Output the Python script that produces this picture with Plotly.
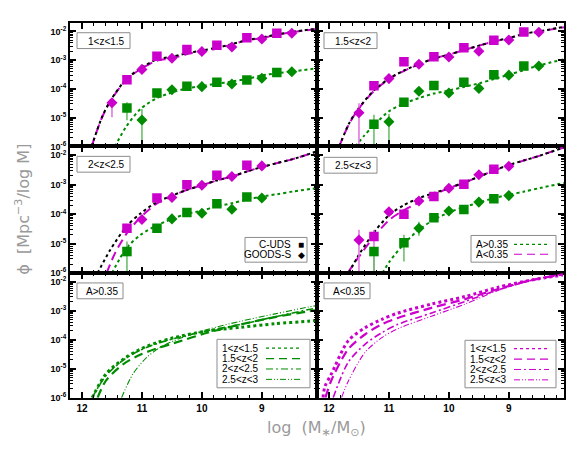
import plotly.graph_objects as go

# ---------------- data (log10 phi values) ----------------
SQ_MASS = [11.25, 10.75, 10.25, 9.75, 9.25, 8.75]          # C-UDS bins
DM_MASS = [11.5, 11.0, 10.5, 10.0, 9.5, 9.0, 8.5]          # GOODS-S bins

# panel 1 : 1<z<1.5
P1_CUDS_LOW = [-3.68, -2.86, -2.63, -2.48, -2.22, -2.06]
P1_GOODS_LOW = [-4.48, -3.32, -2.93, -2.70, -2.54, -2.26, -2.06]
P1_CUDS_HIGH = [-4.66, -4.14, -3.91, -3.77, -3.69, -3.43]
P1_GOODS_HIGH = [None, -5.08, -4.03, -3.92, -3.83, -3.63, -3.40]
# panel 2 : 1.5<z<2
P2_CUDS_LOW = [-3.89, -3.05, -2.88, -2.57, -2.31, -2.02]
P2_GOODS_LOW = [-4.83, -3.64, -3.14, -2.89, -2.69, -2.30, -2.03]
P2_CUDS_HIGH = [-5.23, -4.46, -3.88, -3.77, -3.51, -3.20]
P2_GOODS_HIGH = [None, -5.14, -4.08, -4.14, -3.98, -3.52, -3.20]
# panel 3 : 2<z<2.5
P3_CUDS_LOW = [-4.48, -3.45, -3.00, -2.68, -2.34, None]
P3_GOODS_LOW = [None, -4.18, -3.43, -3.02, -2.72, -2.36, None]
P3_CUDS_HIGH = [-5.27, -4.48, -3.94, -3.65, -3.42, None]
P3_GOODS_HIGH = [None, None, -4.16, -3.97, -3.83, -3.45, None]
# panel 4 : 2.5<z<3
P4_CUDS_LOW = [-4.76, -4.00, -3.40, -2.98, -2.47, None]
P4_GOODS_LOW = [-4.88, -3.92, -3.55, -3.12, -2.66, -2.375, None]
P4_CUDS_HIGH = [-5.27, -4.97, -4.12, -3.84, -3.48, None]
P4_GOODS_HIGH = [None, None, -4.48, -3.89, -3.59, -3.37, None]

# error bars (dex above / below), 0 = none
P1_GOODS_LOW_UP = [0.10, 0, 0, 0, 0, 0, 0]
P1_GOODS_LOW_DN = [0.50, 0, 0, 0, 0, 0, 0]
P1_CUDS_HIGH_UP = [0.20, 0, 0, 0, 0, 0]
P1_CUDS_HIGH_DN = [0.43, 0, 0, 0, 0, 0]
P1_GOODS_HIGH_UP = [0, 0.38, 0, 0, 0, 0, 0]
P1_GOODS_HIGH_DN = [0, 3.0, 0, 0, 0, 0, 0]
P2_GOODS_LOW_UP = [0.33, 0, 0, 0, 0, 0, 0]
P2_GOODS_LOW_DN = [3.0, 0, 0, 0, 0, 0, 0]
P2_CUDS_HIGH_UP = [0.33, 0.08, 0, 0, 0, 0]
P2_CUDS_HIGH_DN = [3.0, 0.10, 0, 0, 0, 0]
P2_GOODS_HIGH_UP = [0, 0.27, 0, 0, 0, 0, 0]
P2_GOODS_HIGH_DN = [0, 3.0, 0, 0, 0, 0, 0]
P3_CUDS_LOW_UP = [0.08, 0, 0, 0, 0, 0]
P3_CUDS_LOW_DN = [0.08, 0, 0, 0, 0, 0]
P3_GOODS_LOW_UP = [0, 0.15, 0, 0, 0, 0, 0]
P3_GOODS_LOW_DN = [0, 0.15, 0, 0, 0, 0, 0]
P3_CUDS_HIGH_UP = [0.34, 0.10, 0, 0, 0, 0]
P3_CUDS_HIGH_DN = [3.0, 0.15, 0, 0, 0, 0]
P4_CUDS_LOW_UP = [0.22, 0, 0, 0, 0, 0]
P4_CUDS_LOW_DN = [3.0, 0, 0, 0, 0, 0]
P4_GOODS_LOW_UP = [0.35, 0, 0, 0, 0, 0, 0]
P4_GOODS_LOW_DN = [3.0, 0, 0, 0, 0, 0, 0]
P4_CUDS_HIGH_UP = [0, 0.27, 0, 0, 0, 0]
P4_CUDS_HIGH_DN = [3.0, 0.64, 0, 0, 0, 0]
P4_GOODS_HIGH_UP = [0, 0, 0.22, 0, 0, 0, 0]
P4_GOODS_HIGH_DN = [0, 0, 0.25, 0, 0, 0, 0]

# fitted curves (mass, log phi)
P1_LOW_FIT_M = [11.84, 11.67, 11.53, 11.26, 11.02, 10.76, 10.51, 10.27, 10.0, 9.76, 9.5, 9.25, 9.0, 8.74, 8.48, 8.07]
P1_LOW_FIT_V = [-6.0, -5.01, -4.44, -3.67, -3.31, -3.02, -2.94, -2.80, -2.68, -2.60, -2.45, -2.31, -2.23, -2.11, -2.02, -1.91]
P1_TOT_FIT_V = [-6.0, -5.00, -4.42, -3.65, -3.28, -2.98, -2.88, -2.77, -2.66, -2.57, -2.44, -2.30, -2.21, -2.10, -2.01, -1.90]
P1_HIGH_FIT_M = [11.45, 11.26, 11.02, 10.76, 10.51, 10.27, 10.0, 9.76, 9.5, 9.25, 9.0, 8.74, 8.48, 8.07]
P1_HIGH_FIT_V = [-6.0, -5.30, -4.69, -4.33, -4.13, -3.99, -3.90, -3.82, -3.74, -3.65, -3.53, -3.45, -3.39, -3.28]

P2_LOW_FIT_M = [11.83, 11.67, 11.52, 11.24, 10.99, 10.74, 10.49, 10.25, 9.99, 9.75, 9.49, 9.24, 8.99, 8.74, 8.48, 8.08]
P2_LOW_FIT_V = [-6.0, -5.24, -4.73, -4.05, -3.65, -3.36, -3.14, -2.94, -2.80, -2.65, -2.49, -2.34, -2.23, -2.09, -2.00, -1.85]
P2_TOT_FIT_V = [-6.0, -5.22, -4.71, -4.03, -3.63, -3.35, -3.13, -2.94, -2.80, -2.65, -2.49, -2.34, -2.22, -2.08, -1.99, -1.84]
P2_HIGH_FIT_M = [11.56, 11.42, 11.24, 10.99, 10.74, 10.49, 10.25, 9.99, 9.75, 9.49, 9.24, 8.99, 8.74, 8.48, 8.08]
P2_HIGH_FIT_V = [-6.0, -5.64, -5.24, -4.76, -4.50, -4.31, -4.16, -4.05, -3.93, -3.80, -3.65, -3.50, -3.34, -3.17, -2.97]

P3_TOT_FIT_M = [11.74, 11.53, 11.26, 11.02, 10.76, 10.51, 10.27, 10.0, 9.76, 9.5, 9.25, 9.0, 8.74, 8.48, 8.07]
P3_TOT_FIT_V = [-6.0, -5.22, -4.42, -3.97, -3.60, -3.38, -3.19, -3.02, -2.86, -2.72, -2.55, -2.40, -2.26, -2.13, -1.86]
P3_LOW_FIT_M = [11.59, 11.45, 11.26, 11.02, 10.76, 10.51, 10.27, 10.0, 9.76, 9.5, 9.25, 9.0, 8.74, 8.48, 8.07]
P3_LOW_FIT_V = [-6.0, -5.33, -4.67, -4.10, -3.65, -3.40, -3.19, -3.02, -2.86, -2.72, -2.55, -2.40, -2.26, -2.13, -1.86]
P3_HIGH_FIT_M = [11.5, 11.26, 11.02, 10.76, 10.51, 10.27, 10.0, 9.76, 9.5, 9.25, 9.0, 8.74, 8.48, 8.07]
P3_HIGH_FIT_V = [-6.0, -5.16, -4.70, -4.39, -4.17, -4.00, -3.88, -3.74, -3.63, -3.51, -3.40, -3.32, -3.23, -3.11]

P4_TOT_FIT_M = [11.67, 11.52, 11.24, 10.99, 10.74, 10.49, 10.25, 9.99, 9.75, 9.49, 9.24, 8.99, 8.74, 8.48, 8.08]
P4_TOT_FIT_V = [-6.0, -5.44, -4.59, -4.02, -3.68, -3.45, -3.28, -3.11, -2.92, -2.72, -2.51, -2.32, -2.17, -2.01, -1.73]
P4_LOW_FIT_M = [11.69, 11.52, 11.24, 10.99, 10.74, 10.49, 10.25, 9.99, 9.75, 9.49, 9.24, 8.99, 8.74, 8.48, 8.08]
P4_LOW_FIT_V = [-6.0, -5.50, -4.74, -4.19, -3.85, -3.60, -3.34, -3.11, -2.94, -2.72, -2.51, -2.34, -2.17, -2.01, -1.73]
P4_HIGH_FIT_M = [11.11, 10.99, 10.74, 10.49, 10.25, 9.99, 9.75, 9.49, 9.24, 8.99, 8.74, 8.48, 8.08]
P4_HIGH_FIT_V = [-6.0, -5.61, -4.99, -4.51, -4.19, -3.93, -3.76, -3.60, -3.45, -3.34, -3.23, -3.11, -2.94]

# bottom-left: A>0.35 fits per redshift bin
BL_Z1_M = [11.83, 11.60, 11.31, 11.03, 10.75, 10.47, 9.91, 9.35, 8.78, 8.22, 8.08]
BL_Z1_V = [-6.0, -5.18, -4.67, -4.33, -4.10, -3.93, -3.70, -3.57, -3.45, -3.36, -3.33]
BL_Z2_M = [11.74, 11.60, 11.31, 11.03, 10.75, 10.47, 9.91, 9.35, 8.78, 8.22, 8.08]
BL_Z2_V = [-6.0, -5.41, -4.84, -4.52, -4.30, -4.12, -3.76, -3.47, -3.22, -3.02, -2.98]
BL_Z3_M = [11.83, 11.60, 11.31, 11.03, 10.75, 10.47, 9.91, 9.35, 8.78, 8.22, 8.08]
BL_Z3_V = [-6.0, -5.24, -4.70, -4.36, -4.14, -3.96, -3.69, -3.47, -3.21, -2.96, -2.91]
BL_Z4_M = [11.34, 11.15, 10.92, 10.70, 10.47, 9.91, 9.35, 8.78, 8.22, 8.08]
BL_Z4_V = [-6.0, -5.18, -4.61, -4.27, -4.04, -3.65, -3.36, -3.11, -2.87, -2.82]
# bottom-right: A<0.35 fits per redshift bin
BR_Z1_M = [12.10, 12.07, 11.96, 11.68, 11.40, 11.12, 10.85, 10.29, 9.73, 9.18, 8.62, 8.10]
BR_Z1_V = [-6.0, -5.63, -5.18, -4.04, -3.59, -3.30, -3.08, -2.77, -2.51, -2.19, -1.94, -1.77]
BR_Z2_M = [12.06, 11.96, 11.68, 11.40, 11.12, 10.85, 10.29, 9.73, 9.18, 8.62, 8.10]
BR_Z2_V = [-6.0, -5.40, -4.33, -3.82, -3.47, -3.25, -2.90, -2.60, -2.25, -1.94, -1.75]
BR_Z3_M = [11.93, 11.68, 11.40, 11.12, 10.85, 10.29, 9.73, 9.18, 8.62, 8.10]
BR_Z3_V = [-6.0, -4.78, -4.16, -3.76, -3.47, -3.08, -2.68, -2.28, -1.95, -1.74]
BR_Z4_M = [11.79, 11.68, 11.40, 11.12, 10.85, 10.29, 9.73, 9.18, 8.62, 8.10]
BR_Z4_V = [-6.0, -5.44, -4.44, -3.93, -3.62, -3.19, -2.77, -2.30, -1.94, -1.74]

Z_LABELS = ["1&lt;z&lt;1.5", "1.5&lt;z&lt;2", "2&lt;z&lt;2.5", "2.5&lt;z&lt;3"]
Y_TICK_EXP = [-6, -5, -4, -3, -2]
X_TICKS = [12, 11, 10, 9]

# ---------------- styling ----------------
W, H = 586, 454
MAG = "#CC00CC"
MAG_ERR = "#E377E3"
GRN = "#008C00"
GRN_ERR = "#6CBF6C"
FONT = "Liberation Sans"
COLS = [(62, 309), (309, 556)]
ROWS = [(15, 140), (140, 268), (268, 394)]


def px(X):
    return X / W


def py(Y):
    return 1 - Y / H


def phi(v):
    return [None if a is None else 10 ** a for a in v]


fig = go.Figure()


def ax(k):
    return ("x" if k == 0 else f"x{k+1}", "y" if k == 0 else f"y{k+1}")


def curve(k, m, v, color, dash, width):
    xa, ya = ax(k)
    fig.add_trace(go.Scatter(x=m, y=phi(v), mode="lines", xaxis=xa, yaxis=ya,
                             line=dict(color=color, dash=dash, width=width, shape="spline", smoothing=0.8),
                             showlegend=False, hoverinfo="skip"))


def points(k, m, v, color, ecolor, symbol, size, up=None, dn=None):
    xa, ya = ax(k)
    err = None
    if up is not None:
        hi, lo = [], []
        for val, u, d in zip(v, up, dn):
            if val is None:
                hi.append(0); lo.append(0)
            else:
                hi.append(10 ** (val + u) - 10 ** val)
                lo.append(10 ** val - 10 ** (val - d))
        err = dict(type="data", symmetric=False, array=hi, arrayminus=lo,
                   color=ecolor, thickness=1.6, width=0)
    fig.add_trace(go.Scatter(x=m, y=phi(v), mode="markers", xaxis=xa, yaxis=ya,
                             marker=dict(symbol=symbol, size=size, color=color, line=dict(width=0)),
                             error_y=err, showlegend=False, hoverinfo="skip"))


Z = [0] * 7
panel_data = [
    (P1_LOW_FIT_M, P1_LOW_FIT_V, P1_LOW_FIT_M, P1_TOT_FIT_V, P1_HIGH_FIT_M, P1_HIGH_FIT_V,
     P1_CUDS_LOW, P1_GOODS_LOW, P1_CUDS_HIGH, P1_GOODS_HIGH,
     (Z[:6], Z[:6]), (P1_GOODS_LOW_UP, P1_GOODS_LOW_DN), (P1_CUDS_HIGH_UP, P1_CUDS_HIGH_DN), (P1_GOODS_HIGH_UP, P1_GOODS_HIGH_DN)),
    (P2_LOW_FIT_M, P2_LOW_FIT_V, P2_LOW_FIT_M, P2_TOT_FIT_V, P2_HIGH_FIT_M, P2_HIGH_FIT_V,
     P2_CUDS_LOW, P2_GOODS_LOW, P2_CUDS_HIGH, P2_GOODS_HIGH,
     (Z[:6], Z[:6]), (P2_GOODS_LOW_UP, P2_GOODS_LOW_DN), (P2_CUDS_HIGH_UP, P2_CUDS_HIGH_DN), (P2_GOODS_HIGH_UP, P2_GOODS_HIGH_DN)),
    (P3_LOW_FIT_M, P3_LOW_FIT_V, P3_TOT_FIT_M, P3_TOT_FIT_V, P3_HIGH_FIT_M, P3_HIGH_FIT_V,
     P3_CUDS_LOW, P3_GOODS_LOW, P3_CUDS_HIGH, P3_GOODS_HIGH,
     (P3_CUDS_LOW_UP, P3_CUDS_LOW_DN), (P3_GOODS_LOW_UP, P3_GOODS_LOW_DN), (P3_CUDS_HIGH_UP, P3_CUDS_HIGH_DN), (Z, Z)),
    (P4_LOW_FIT_M, P4_LOW_FIT_V, P4_TOT_FIT_M, P4_TOT_FIT_V, P4_HIGH_FIT_M, P4_HIGH_FIT_V,
     P4_CUDS_LOW, P4_GOODS_LOW, P4_CUDS_HIGH, P4_GOODS_HIGH,
     (P4_CUDS_LOW_UP, P4_CUDS_LOW_DN), (P4_GOODS_LOW_UP, P4_GOODS_LOW_DN), (P4_CUDS_HIGH_UP, P4_CUDS_HIGH_DN), (P4_GOODS_HIGH_UP, P4_GOODS_HIGH_DN)),
]

for k, d in enumerate(panel_data):
    (lm, lv, tm, tv, hm, hv, cl, gl, ch, gh, ecl, egl, ech, egh) = d
    curve(k, hm, hv, GRN, "dot", 2)
    curve(k, lm, lv, MAG, "9px,5px", 2)
    curve(k, tm, tv, "black", "dot", 2)
    points(k, SQ_MASS, cl, MAG, MAG_ERR, "square", 9.5, *ecl)
    points(k, DM_MASS, gl, MAG, MAG_ERR, "diamond", 8.5, *egl)
    points(k, SQ_MASS, ch, GRN, GRN_ERR, "square", 9.5, *ech)
    points(k, DM_MASS, gh, GRN, GRN_ERR, "diamond", 8.5, *egh)

STYLES = [("dot", 3), ("9px,5px", 2.2), ("7px,3px,2px,3px", 1.6), ("6px,2px,1px,2px,1px,2px", 1.1)]
for (m, v), (ds, wd) in zip([(BL_Z1_M, BL_Z1_V), (BL_Z2_M, BL_Z2_V), (BL_Z3_M, BL_Z3_V), (BL_Z4_M, BL_Z4_V)], STYLES):
    curve(4, m, v, GRN, ds, wd)
for (m, v), (ds, wd) in zip([(BR_Z1_M, BR_Z1_V), (BR_Z2_M, BR_Z2_V), (BR_Z3_M, BR_Z3_V), (BR_Z4_M, BR_Z4_V)], STYLES):
    curve(5, m, v, MAG, ds, wd)

# ---------------- axes ----------------
minor_y = [j * 10.0 ** e for e in range(-7, -1) for j in range(2, 10)]
minor_x = [round(8.0 + 0.2 * i, 2) for i in range(0, 22)]
minor_x = [v for v in minor_x if abs(v - round(v)) > 1e-6]
layout = {}
for k in range(6):
    r, c = k // 2, k % 2
    xn = "xaxis" if k == 0 else f"xaxis{k+1}"
    yn = "yaxis" if k == 0 else f"yaxis{k+1}"
    xa, ya = ax(k)
    layout[xn] = dict(domain=[px(COLS[c][0]), px(COLS[c][1])], anchor=ya, range=[12.2, 8.08],
                      showline=True, mirror="allticks", linecolor="black", linewidth=2,
                      ticks="inside", ticklen=6, tickwidth=1.5, tickcolor="black",
                      tickmode="array", tickvals=X_TICKS, ticktext=[f"<b>{t}</b>" for t in X_TICKS],
                      showticklabels=(r == 2), tickfont=dict(family=FONT, size=10, color="black"),
                      minor=dict(ticks="inside", ticklen=3, tickwidth=1, tickcolor="black",
                                 tickmode="array", tickvals=minor_x, showgrid=False),
                      showgrid=False, zeroline=False, fixedrange=True)
    layout[yn] = dict(domain=[py(ROWS[r][1]), py(ROWS[r][0])], anchor=xa, type="log", range=[-6, -1.7],
                      showline=True, mirror="allticks", linecolor="black", linewidth=2,
                      ticks="inside", ticklen=6, tickwidth=1.5, tickcolor="black",
                      tickmode="array", tickvals=[10.0 ** e for e in Y_TICK_EXP],
                      ticktext=[f"<b>10<sup>{e}</sup></b>" for e in Y_TICK_EXP],
                      showticklabels=(c == 0), tickfont=dict(family=FONT, size=9, color="black"),
                      minor=dict(ticks="inside", ticklen=3, tickwidth=1, tickcolor="black",
                                 tickmode="array", tickvals=minor_y, showgrid=False),
                      showgrid=False, zeroline=False, fixedrange=True)

shapes, annos = [], []


def box(x0, y0, x1, y1):
    shapes.append(dict(type="rect", xref="paper", yref="paper", x0=px(x0), x1=px(x1), y0=py(y1), y1=py(y0),
                       line=dict(color="#8c8c8c", width=1), fillcolor="white", layer="above"))


def text(X, Y, s, anchor="left", size=10):
    annos.append(dict(xref="paper", yref="paper", x=px(X), y=py(Y), text=s, showarrow=False,
                      xanchor=anchor, yanchor="middle", font=dict(family=FONT, size=size, color="black")))


def sample(x0, x1, Y, color, dash, width):
    shapes.append(dict(type="line", xref="paper", yref="paper", x0=px(x0), x1=px(x1), y0=py(Y), y1=py(Y),
                       line=dict(color=color, dash=dash, width=width), layer="above"))


# panel labels
label_boxes = [(69, 25), (316, 25), (69, 150), (316, 151)]
for (bx, by), lab in zip(label_boxes, Z_LABELS):
    box(bx, by, bx + 53, by + 16)
    text(bx + 50, by + 8.5, lab, "right")
box(69, 278, 115, 294)
text(112, 286.5, "A&gt;0.35", "right")
box(316, 278, 362, 294)
text(359, 286.5, "A&lt;0.35", "right")

# C-UDS / GOODS-S legend
box(237, 232, 299, 257)
text(285, 239.5, "C-UDS", "right")
text(286, 249.5, "GOODS-S", "right")
text(288, 239.5, "■", "left", 10)
text(287.5, 249.5, "◆", "left", 9)

# A>0.35 / A<0.35 legend
box(463, 230, 548, 257)
text(466, 239, "A&gt;0.35")
text(466, 249, "A&lt;0.35")
sample(506, 541, 239, GRN, "dot", 1.2)
sample(506, 541, 249, MAG, "8px,5px", 1.2)

# bottom legends
zl = ["1&lt;z&lt;1.5", "1.5&lt;z&lt;2", "2&lt;z&lt;2.5", "2.5&lt;z&lt;3"]
ys = [344, 354.5, 365, 375.5]
sty = [("dot", 1.2), ("8px,5px", 1.2), ("7px,3px,2px,3px", 1.0), ("6px,2px,1px,2px,1px,2px", 1.0)]
box(209, 335, 302, 384)
box(457, 336, 548, 384)
for lab, Y, (ds, wd) in zip(zl, ys, sty):
    text(212, Y, lab)
    sample(258, 293, Y, GRN, ds, wd)
    text(460, Y + 0.5, lab)
    sample(506, 541, Y + 0.5, MAG, ds, wd)

# axis titles
annos.append(dict(xref="paper", yref="paper", x=px(15), y=py(204), text="ϕ  [Mpc<sup>−3</sup>/log M]",
                  showarrow=False, textangle=-90, xanchor="center", yanchor="middle",
                  font=dict(family="DejaVu Sans ExtraLight, DejaVu Sans", size=16, color="#9a9a9a")))
annos.append(dict(xref="paper", yref="paper", x=px(308), y=py(425), text="log  (M<sub>∗</sub>/M<sub>⊙</sub>)",
                  showarrow=False, xanchor="center", yanchor="middle",
                  font=dict(family="DejaVu Sans ExtraLight, DejaVu Sans", size=16, color="#9a9a9a")))

fig.update_layout(width=W, height=H, margin=dict(l=0, r=0, t=0, b=0), paper_bgcolor="white",
                  plot_bgcolor="white", showlegend=False, shapes=shapes, annotations=annos, **layout)
fig.write_html("out.html")
